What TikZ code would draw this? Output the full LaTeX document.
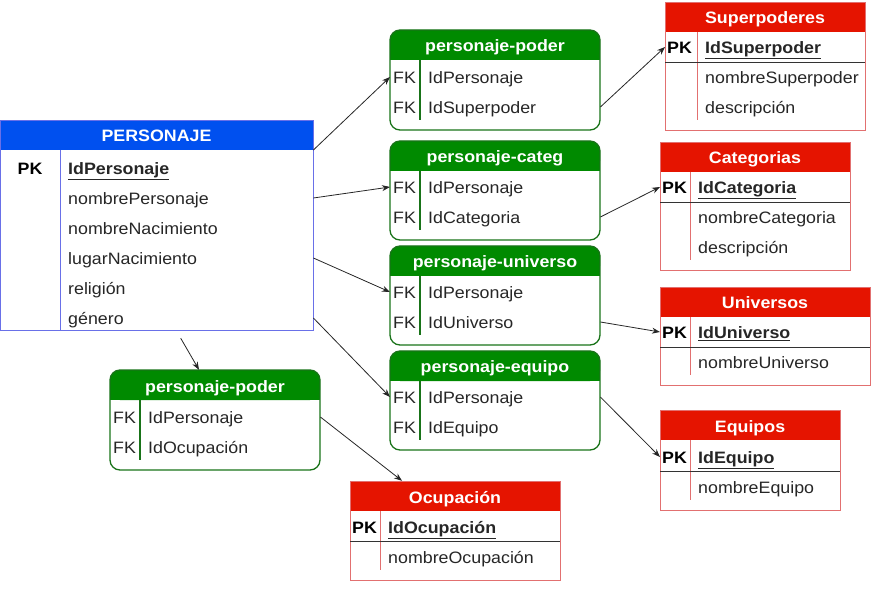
\documentclass[tikz,border=0pt]{standalone}
\usepackage{fontspec}
\setmainfont[FakeStretch=1.08]{Liberation Sans}
\usepackage{tikz}
\usetikzlibrary{arrows.meta,positioning}
\definecolor{hdblue}{RGB}{0,80,239}
\definecolor{lnblue}{RGB}{105,112,232}
\definecolor{hdgreen}{RGB}{0,138,0}
\definecolor{lngreen}{RGB}{25,115,25}
\definecolor{hdred}{RGB}{229,20,0}
\definecolor{lnred}{RGB}{226,112,112}
\tikzset{font=\fontsize{16.5}{19}\selectfont}
\tikzset{every node/.append style={transform shape=false}}
\tikzset{
  hdr/.style={text=white,font=\fontsize{16.5}{19}\selectfont\bfseries,minimum height=30pt,inner sep=0pt,text height=16pt,text depth=2pt},
  row/.style={anchor=west,inner sep=0pt,align=left,minimum height=30pt,text height=15pt,text depth=2.5pt,text=black!85},
  pkrow/.style={row,font=\fontsize{16.5}{19}\selectfont\bfseries},
  keycol/.style={anchor=west,inner xsep=3pt,inner ysep=0pt,minimum height=30pt,text height=15pt,text depth=2.5pt,text=black!85},
  pkey/.style={keycol,inner xsep=2pt,text=black,font=\fontsize{16.5}{19}\selectfont\bfseries},
  gframe/.style={lngreen,line width=1.3pt},
  rframe/.style={lnred,line width=0.9pt},
  pkline/.style={black!80,line width=0.9pt},
  fk/.style={-{Stealth[length=8pt,width=6pt]},black!85,line width=0.8pt}
}

\begin{document}
\begin{tikzpicture}[x=1pt,y=-1pt]
\useasboundingbox (0,0) rectangle (883,593);
% PERSONAJE
\node[hdr,fill=hdblue,minimum width=313pt] (perh) at (156.5,135) {PERSONAJE};
\draw[lnblue,line width=0.8pt] (0,120) rectangle (313,330);
\draw[lnblue,line width=0.8pt] (60,150) -- (60,330);
\node[pkey,anchor=center] (perk) at (30,168) {PK};
\node[pkrow,text width=245pt] (per0) at (68,168) {\underline{IdPersonaje}};
\foreach \t [count=\i] in {nombrePersonaje,nombreNacimiento,lugarNacimiento,religión,género}
  \node[row,text width=245pt] (per\i) at (68,168+30*\i) {\t};

% personaje-poder (arriba)
\fill[hdgreen] (390,45) rectangle (600,60);
\node[hdr,fill=hdgreen,rounded corners=10pt,minimum width=210pt] (pp1h) at (495,45) {personaje-poder};
\draw[gframe,rounded corners=10pt] (390,30) rectangle (600,130);
\draw[gframe] (420,60) -- (420,120);
\node[keycol] (pp1k1) at (390,77) {FK};
\node[keycol] (pp1k2) at (390,107) {FK};
\node[row,text width=172pt] (pp1r1) at (428,77) {IdPersonaje};
\node[row,text width=172pt] (pp1r2) at (428,107) {IdSuperpoder};

% personaje-categ
\fill[hdgreen] (390,156) rectangle (600,171);
\node[hdr,fill=hdgreen,rounded corners=10pt,minimum width=210pt] (pch) at (495,156) {personaje-categ};
\draw[gframe,rounded corners=10pt] (390,141) rectangle (600,240);
\draw[gframe] (420,171) -- (420,230);
\node[keycol] (pck1) at (390,187) {FK};
\node[keycol] (pck2) at (390,217) {FK};
\node[row,text width=172pt] (pcr1) at (428,187) {IdPersonaje};
\node[row,text width=172pt] (pcr2) at (428,217) {IdCategoria};

% personaje-universo
\fill[hdgreen] (390,261) rectangle (600,276);
\node[hdr,fill=hdgreen,rounded corners=10pt,minimum width=210pt] (puh) at (495,261) {personaje-universo};
\draw[gframe,rounded corners=10pt] (390,246) rectangle (600,345);
\draw[gframe] (420,276) -- (420,335);
\node[keycol] (puk1) at (390,292) {FK};
\node[keycol] (puk2) at (390,322) {FK};
\node[row,text width=172pt] (pur1) at (428,292) {IdPersonaje};
\node[row,text width=172pt] (pur2) at (428,322) {IdUniverso};

% personaje-equipo
\fill[hdgreen] (390,366) rectangle (600,381);
\node[hdr,fill=hdgreen,rounded corners=10pt,minimum width=210pt] (peh) at (495,366) {personaje-equipo};
\draw[gframe,rounded corners=10pt] (390,351) rectangle (600,450);
\draw[gframe] (420,381) -- (420,440);
\node[keycol] (pek1) at (390,397) {FK};
\node[keycol] (pek2) at (390,427) {FK};
\node[row,text width=172pt] (per1e) at (428,397) {IdPersonaje};
\node[row,text width=172pt] (per2e) at (428,427) {IdEquipo};

% personaje-poder (abajo)
\fill[hdgreen] (110,385) rectangle (320,400);
\node[hdr,fill=hdgreen,rounded corners=10pt,minimum width=210pt] (pp2h) at (215,385) {personaje-poder};
\draw[gframe,rounded corners=10pt] (110,370) rectangle (320,470);
\draw[gframe] (140,400) -- (140,460);
\node[keycol] (pp2k1) at (110,417) {FK};
\node[keycol] (pp2k2) at (110,447) {FK};
\node[row,text width=172pt] (pp2r1) at (148,417) {IdPersonaje};
\node[row,text width=172pt] (pp2r2) at (148,447) {IdOcupación};

% Superpoderes
\node[hdr,fill=hdred,minimum width=200pt] (suph) at (765,17) {Superpoderes};
\draw[rframe] (665,2) rectangle (865,130);
\draw[rframe] (697,32) -- (697,120);
\draw[pkline] (665,62) -- (865,62);
\node[pkey] (supk) at (665,47) {PK};
\node[pkrow,text width=160pt] (sup0) at (705,47) {\underline{IdSuperpoder}};
\node[row,text width=160pt] (sup1) at (705,77) {nombreSuperpoder};
\node[row,text width=160pt] (sup2) at (705,107) {descripción};

% Categorias
\node[hdr,fill=hdred,minimum width=190pt] (cath) at (755,157) {Categorias};
\draw[rframe] (660,142) rectangle (850,270);
\draw[rframe] (690,172) -- (690,260);
\draw[pkline] (660,202) -- (850,202);
\node[pkey] (catk) at (660,187) {PK};
\node[pkrow,text width=152pt] (cat0) at (698,187) {\underline{IdCategoria}};
\node[row,text width=152pt] (cat1) at (698,217) {nombreCategoria};
\node[row,text width=152pt] (cat2) at (698,247) {descripción};

% Universos
\node[hdr,fill=hdred,minimum width=210pt] (unih) at (765,302) {Universos};
\draw[rframe] (660,287) rectangle (870,385);
\draw[rframe] (690,317) -- (690,375);
\draw[pkline] (660,347) -- (870,347);
\node[pkey] (unik) at (660,332) {PK};
\node[pkrow,text width=172pt] (uni0) at (698,332) {\underline{IdUniverso}};
\node[row,text width=172pt] (uni1) at (698,362) {nombreUniverso};

% Equipos
\node[hdr,fill=hdred,minimum width=180pt] (equh) at (750,425) {Equipos};
\draw[rframe] (660,410) rectangle (840,510);
\draw[rframe] (690,440) -- (690,500);
\draw[pkline] (660,471) -- (840,471);
\node[pkey] (equk) at (660,457) {PK};
\node[pkrow,text width=142pt] (equ0) at (698,457) {\underline{IdEquipo}};
\node[row,text width=142pt] (equ1) at (698,487) {nombreEquipo};

% Ocupacion
\node[hdr,fill=hdred,minimum width=210pt] (ocuh) at (455,496) {Ocupación};
\draw[rframe] (350,481) rectangle (560,580);
\draw[rframe] (380,511) -- (380,570);
\draw[pkline] (350,541) -- (560,541);
\node[pkey] (ocuk) at (350,527) {PK};
\node[pkrow,text width=172pt] (ocu0) at (388,527) {\underline{IdOcupación}};
\node[row,text width=172pt] (ocu1) at (388,557) {nombreOcupación};

% relaciones
\draw[fk] (perh.south east) -- (pp1k1.west);
\draw[fk] (per1.east) -- (pck1.west);
\draw[fk] (per3.east) -- (puk1.west);
\draw[fk] (per5.east) -- (pek1.west);
\draw[fk] ([xshift=-10pt,yshift=-5pt]per5.south) -- ([xshift=-16pt]pp2h.north);
\draw[fk] (pp1r2.east) -- (supk.west);
\draw[fk] (pcr2.east) -- (catk.west);
\draw[fk] (pur2.east) -- (unik.west);
\draw[fk] (per1e.east) -- (equk.west);
\draw[fk] (pp2r1.east) -- ([xshift=-53pt]ocuh.north);
\end{tikzpicture}
\end{document}
